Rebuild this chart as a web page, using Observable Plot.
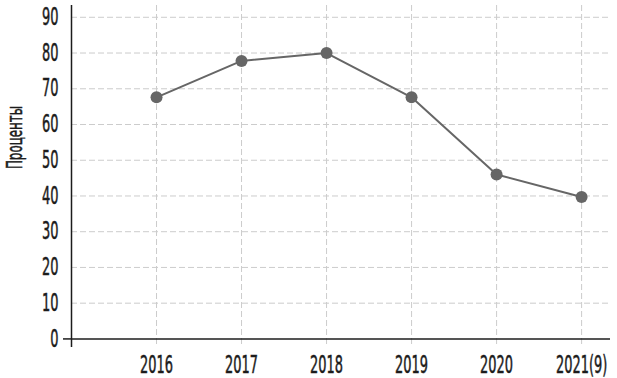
<!DOCTYPE html>
<html>
<head>
<meta charset="utf-8">
<script src="https://cdn.jsdelivr.net/npm/d3@7"></script>
<script src="https://cdn.jsdelivr.net/npm/@observablehq/plot@0.6"></script>
<style>
  html, body { margin: 0; padding: 0; background: #fff; }
  #chart svg { display: block; }
  #chart svg text { stroke: #1c1c1c; stroke-width: 0.5px; }
</style>
</head>
<body>
<div id="chart"></div>
<script>
const years = [2016, 2017, 2018, 2019, 2020, 2021];
const yearLabels = ["2016", "2017", "2018", "2019", "2020", "2021(9)"];
const values = [67.6, 77.8, 80, 67.6, 46.0, 39.7];
const yTicks = [0, 10, 20, 30, 40, 50, 60, 70, 80, 90];
const yLabel = "Проценты";

const data = years.map((y, i) => ({year: y, value: values[i]}));
const font = "'DejaVu Sans Condensed', 'Liberation Sans Narrow', sans-serif";
const ink = "#1c1c1c";
const grid = "#cccccc";
const lineColor = "#666666";
const squeeze = 0.6;

const chart = Plot.plot({
  width: 617,
  height: 378,
  marginLeft: 71,
  marginRight: 7,
  marginTop: 5,
  marginBottom: 31,
  style: {fontFamily: font, fontSize: "24px", color: ink, background: "#fff"},
  x: {type: "linear", domain: [2015, 2021.34]},
  y: {type: "linear", domain: [-2.4, 93.3]},
  marks: [
    Plot.gridY(yTicks.filter(d => d > 0), {stroke: grid, strokeOpacity: 1, strokeDasharray: "6,3"}),
    Plot.gridX(years, {stroke: grid, strokeOpacity: 1, strokeDasharray: "6,3"}),
    Plot.axisY(yTicks, {tickSize: 0, tickPadding: 13, label: null, fill: ink, fontSize: 24}),
    Plot.axisY([0], {tickSize: 8, tickFormat: () => "", label: null, stroke: ink, strokeWidth: 1.5}),
    Plot.axisX(years, {tickSize: 0, tickPadding: 8, label: null, fill: ink, fontSize: 24,
      tickFormat: d => yearLabels[years.indexOf(d)]}),
    Plot.ruleX([2015], {stroke: ink, strokeWidth: 1.5}),
    Plot.ruleY([0], {stroke: ink, strokeWidth: 1.5}),
    Plot.line(data, {x: "year", y: "value", stroke: lineColor, strokeWidth: 2}),
    Plot.dot(data, {x: "year", y: "value", r: 6, fill: lineColor, stroke: "none"}),
    Plot.text([yLabel], {frameAnchor: "left", dx: -56.5, dy: -39, rotate: -90, fill: ink, fontSize: 22, textAnchor: "middle"})
  ]
});
// condense glyphs horizontally to mimic the narrow typeface
d3.select(chart).selectAll("text").each(function() {
  const t = this.getAttribute("transform") || "";
  this.setAttribute("transform", t + ` scale(${squeeze},1)`);
});
document.getElementById("chart").appendChild(chart);
</script>
</body>
</html>
